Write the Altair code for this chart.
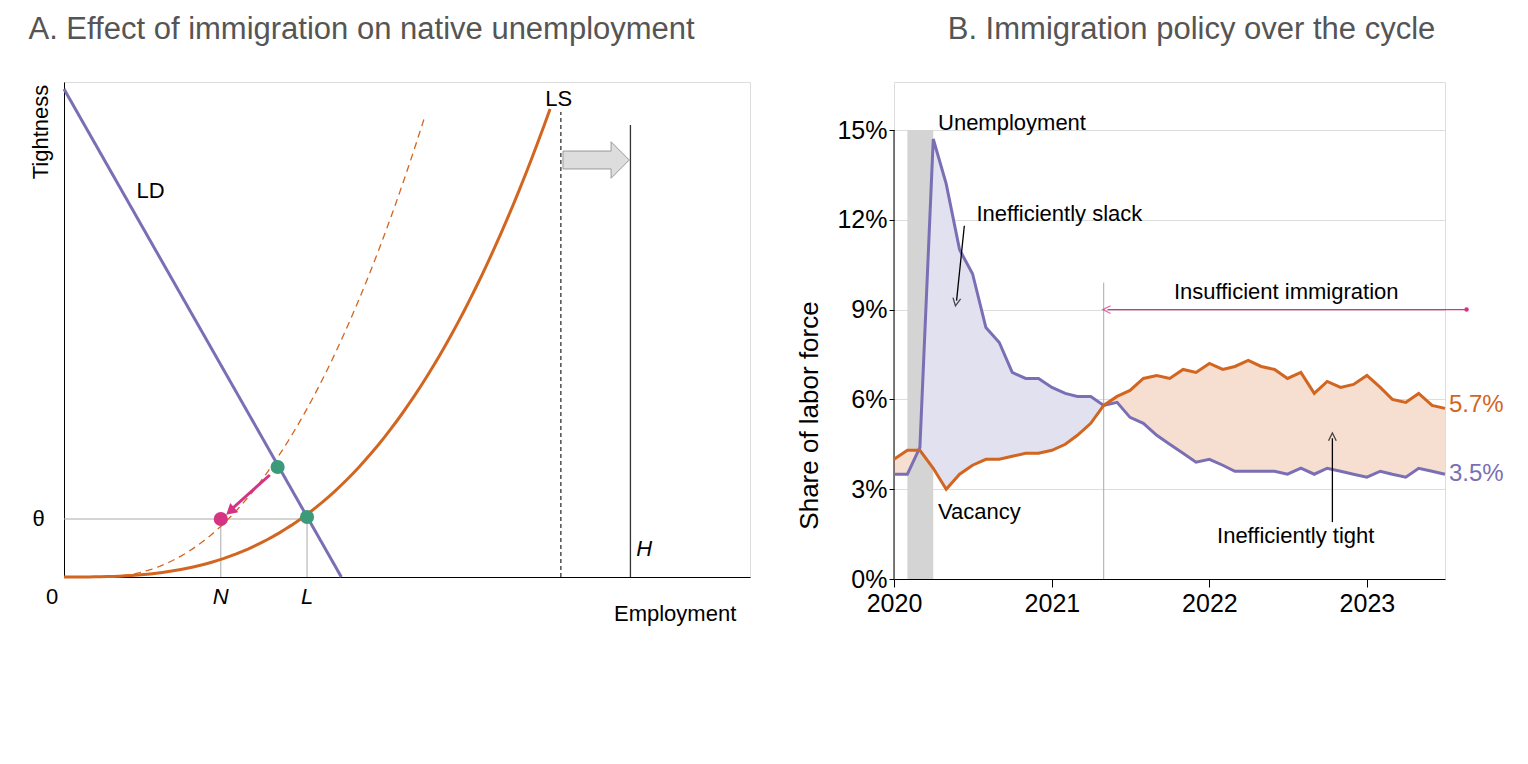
import altair as alt
import pandas as pd
import numpy as np

FONT = "Liberation Sans"
PURPLE = "#7a6fb5"
ORANGE = "#d2651f"
GREEN = "#3a9a7a"
PINK = "#d63384"

# ---------------- Panel B data ----------------
unemp = [3.5,3.5,4.4,14.7,13.2,11.0,10.2,8.4,7.9,6.9,6.7,6.7,
         6.4,6.2,6.1,6.1,5.8,5.9,5.4,5.2,4.8,4.5,4.2,3.9,
         4.0,3.8,3.6,3.6,3.6,3.6,3.5,3.7,3.5,3.7,3.6,3.5,
         3.4,3.6,3.5,3.4,3.7,3.6,3.5]
vacancy = [4.0,4.3,4.3,3.7,3.0,3.5,3.8,4.0,4.0,4.1,4.2,4.2,
           4.3,4.5,4.8,5.2,5.8,6.1,6.3,6.7,6.8,6.7,7.0,6.9,
           7.2,7.0,7.1,7.3,7.1,7.0,6.7,6.9,6.2,6.6,6.4,6.5,
           6.8,6.4,6.0,5.9,6.2,5.8,5.7]
dates = pd.date_range("2020-01-01", periods=len(unemp), freq="MS")

dfB = pd.DataFrame({"date": dates, "u": unemp, "v": vacancy})
dfB["lo"] = np.minimum(dfB.u, dfB.v)

W_B, H_B = 551, 497
YTOP = 15 * 497 / 449
xB = alt.X("date:T", scale=alt.Scale(domain=["2020-01-01", "2023-07-01"]),
           axis=alt.Axis(format="%Y", tickCount=alt.TickCount(interval="year", step=1),
                         labelFontSize=25, grid=False, domainColor="black", tickColor="black",
                         labelColor="black", tickSize=8, labelPadding=4, labelFont=FONT,
                         labelFlush=False, labelBound=False, labelOverlap=False), title=None)
yscale = alt.Scale(domain=[0, YTOP])
yB = alt.Y("u:Q", scale=yscale,
           axis=alt.Axis(values=[0,3,6,9,12,15], labelExpr="datum.value + '%'", labelFontSize=25,
                         title="Share of labor force", titleFontSize=26, titleFontWeight="normal",
                         titleColor="black", labelColor="black", domain=False, tickColor="black",
                         gridColor="#dddddd", titlePadding=14, labelFont=FONT, titleFont=FONT,
                         titleY=333, titleAnchor="middle"))

base = alt.Chart(dfB)
rec = alt.Chart(pd.DataFrame({"a": ["2020-02-01"], "b": ["2020-04-01"], "y0": [0], "y1": [15]})).mark_rect(
    color="#d4d4d4").encode(x="a:T", x2="b:T", y=alt.Y("y0:Q", scale=yscale), y2="y1:Q")
yaxis_line = alt.Chart(pd.DataFrame({"d": ["2020-01-01"], "y0": [0], "y1": [15]})).mark_rule(color="black").encode(
    x="d:T", y=alt.Y("y0:Q", scale=yscale), y2="y1:Q")
areaU = base.mark_area(color="#e2e1f0").encode(x=xB, y=yB, y2="lo:Q")
areaV = base.mark_area(color="#f6dfd1").encode(x="date:T", y=alt.Y("v:Q", scale=yscale), y2="lo:Q")
lineU = base.mark_line(color=PURPLE, strokeWidth=3).encode(x="date:T", y=alt.Y("u:Q", scale=yscale))
lineV = base.mark_line(color=ORANGE, strokeWidth=3).encode(x="date:T", y=alt.Y("v:Q", scale=yscale))
vline = alt.Chart(pd.DataFrame({"d": ["2021-05-01"], "y0": [0], "y1": [9.9]})).mark_rule(color="#aaaaaa").encode(
    x="d:T", y=alt.Y("y0:Q", scale=yscale), y2="y1:Q")

arr_df = pd.DataFrame({"x": ["2020-06-12", "2022-10-13", "2023-08-20"],
                       "x2": ["2020-05-25", "2022-10-13", "2021-05-10"],
                       "y": [11.8, 1.9, 9.0], "y2": [9.3, 4.7, 9.0],
                       "c": ["black", "black", PINK]})
arrows = alt.Chart(arr_df).mark_rule(strokeWidth=1.3).encode(
    x="x:T", x2="x2:T", y=alt.Y("y:Q", scale=yscale), y2="y2:Q", color=alt.Color("c:N", scale=None))
heads_df = pd.DataFrame({"x": ["2020-05-24", "2022-10-13", "2021-05-08"], "y": [9.25, 4.75, 9.0],
                         "ang": [190, 0, 270], "c": ["black", "black", PINK]})
heads = alt.Chart(heads_df).mark_point(shape="M -1 1 L 0 -1 L 1 1", filled=False, size=60, strokeWidth=1.3).encode(
    x="x:T", y=alt.Y("y:Q", scale=yscale), angle=alt.Angle("ang:Q", scale=None), color=alt.Color("c:N", scale=None))
dot = alt.Chart(pd.DataFrame({"x": ["2023-08-20"], "y": [9.0]})).mark_circle(color=PINK, size=20, opacity=1).encode(
    x="x:T", y=alt.Y("y:Q", scale=yscale))

txt_df = pd.DataFrame({
    "x": ["2020-04-12", "2020-07-10", "2022-06-28", "2020-04-12", "2022-07-20", "2023-07-10", "2023-07-10"],
    "y": [15.25, 12.2, 9.6, 2.25, 1.45, 5.8, 3.5],
    "t": ["Unemployment", "Inefficiently slack", "Insufficient immigration", "Vacancy", "Inefficiently tight", "5.7%", "3.5%"],
    "al": ["left", "left", "center", "left", "center", "left", "left"],
    "c": ["black", "black", "black", "black", "black", ORANGE, PURPLE],
    "s": [22, 22, 22, 22, 22, 24, 24]})
texts = []
for _, r in txt_df.iterrows():
    texts.append(alt.Chart(pd.DataFrame([r])).mark_text(align=r.al, baseline="middle", font=FONT,
                                                        fontSize=int(r.s), color=r.c).encode(
        x="x:T", y=alt.Y("y:Q", scale=yscale), text="t:N"))

panelB = alt.layer(rec, areaU, areaV, yaxis_line, vline, lineU, lineV, arrows, heads, dot, *texts).properties(
    width=W_B, height=H_B,
    title=alt.TitleParams("B. Immigration policy over the cycle", fontSize=31, fontWeight="normal",
                          color="#555555", font=FONT, anchor="middle", offset=36, dx=22))

# ---------------- Panel A ----------------
W_A, H_A = 686, 495
xs = np.linspace(0, 496, 80)
ls = pd.DataFrame({"x": xs, "y": 468 * (xs / 496) ** 2.9})
xd = np.linspace(35, 368, 80)
dsh = pd.DataFrame({"x": xd, "y": 460 * ((xd - 35) / 333) ** 2.25})
ld = pd.DataFrame({"x": [0, 283], "y": [488, 0]})
xa = alt.X("x:Q", scale=alt.Scale(domain=[0, W_A]), axis=alt.Axis(labels=False, ticks=False, grid=False,
                                                                 domainColor="black", title=None))
ya = alt.Y("y:Q", scale=alt.Scale(domain=[0, H_A]), axis=alt.Axis(labels=False, ticks=False, grid=False,
                                                                 domainColor="black", title=None))
ysc = alt.Scale(domain=[0, H_A])
lsL = alt.Chart(ls).mark_line(color=ORANGE, strokeWidth=3).encode(x=xa, y=ya)
dsL = alt.Chart(dsh).mark_line(color=ORANGE, strokeWidth=1.3, strokeDash=[7, 5]).encode(x="x:Q", y=alt.Y("y:Q", scale=ysc))
ldL = alt.Chart(ld).mark_line(color=PURPLE, strokeWidth=3).encode(x="x:Q", y=alt.Y("y:Q", scale=ysc))
guides = pd.DataFrame({"x": [0, 160, 248], "x2": [248, 160, 248], "y": [58, 0, 0], "y2": [58, 58, 58]})
gL = alt.Chart(guides).mark_rule(color="#aaaaaa", strokeWidth=1).encode(x="x:Q", x2="x2:Q", y=alt.Y("y:Q", scale=ysc), y2="y2:Q")
vlines = pd.DataFrame({"x": [507, 578], "y": [0, 0], "y2": [465, 452], "d": ["dash", "solid"]})
vL = alt.Chart(vlines).mark_rule(color="#333333", strokeWidth=1.3).encode(
    x="x:Q", y=alt.Y("y:Q", scale=ysc), y2="y2:Q",
    strokeDash=alt.StrokeDash("d:N", scale=alt.Scale(domain=["dash", "solid"], range=[[4, 3], [1, 0]]), legend=None))
pink_arrow = alt.Chart(pd.DataFrame({"x": [210], "x2": [170], "y": [102], "y2": [67]})).mark_rule(
    color=PINK, strokeWidth=3).encode(x="x:Q", x2="x2:Q", y=alt.Y("y:Q", scale=ysc), y2="y2:Q")
pink_head = alt.Chart(pd.DataFrame({"x": [171], "y": [67]})).mark_point(
    shape="triangle", filled=True, color=PINK, size=150, opacity=1, angle=229).encode(x="x:Q", y=alt.Y("y:Q", scale=ysc))
pts = pd.DataFrame({"x": [218, 248, 160], "y": [110, 60, 58], "c": [GREEN, GREEN, PINK]})
ptsL = alt.Chart(pts).mark_circle(size=200, opacity=1).encode(
    x="x:Q", y=alt.Y("y:Q", scale=ysc), color=alt.Color("c:N", scale=None))
block = alt.Chart(pd.DataFrame({"x": [543], "y": [417]})).mark_point(
    shape="M -1 -0.27 L 0.45 -0.27 L 0.45 -0.55 L 1 0 L 0.45 0.55 L 0.45 0.27 L -1 0.27 Z",
    filled=True, fill="#dddddd", stroke="#999999", strokeWidth=1, size=4400, opacity=1).encode(
    x="x:Q", y=alt.Y("y:Q", scale=ysc))
labA = pd.DataFrame({
    "x": [74, 491, 584, -26, 160, 248, -12, 686],
    "y": [386, 478, 28, 58, -20, -20, -20, -37],
    "t": ["LD", "LS", "H", "θ", "N", "L", "0", "Employment"],
    "st": ["normal", "normal", "italic", "normal", "italic", "italic", "normal", "normal"],
    "al": ["left", "left", "left", "center", "center", "center", "center", "right"]})
labsL = []
for _, r in labA.iterrows():
    labsL.append(alt.Chart(pd.DataFrame([r])).mark_text(
        fontSize=22, font=FONT, fontStyle=r.st, align=r.al, baseline="middle", color="black").encode(
        x="x:Q", y=alt.Y("y:Q", scale=ysc), text="t:N"))
tight = alt.Chart(pd.DataFrame({"x": [-23], "y": [445], "t": ["Tightness"]})).mark_text(
    fontSize=22, font=FONT, angle=270, baseline="middle", align="center", color="black").encode(
    x="x:Q", y=alt.Y("y:Q", scale=ysc), text="t:N")

panelA = alt.layer(gL, vL, dsL, lsL, ldL, pink_arrow, pink_head, ptsL, block, *labsL, tight).properties(
    width=W_A, height=H_A,
    title=alt.TitleParams("A. Effect of immigration on native unemployment", fontSize=31, fontWeight="normal",
                          color="#555555", font=FONT, anchor="start", offset=36, dx=-2))

chart = alt.hconcat(panelA, panelB, spacing=45).configure_view(stroke=None).configure(
    padding={"left": 19, "top": 5, "right": 5, "bottom": 5})
chart.save("out.html", embed_options={"renderer": "svg", "actions": False})
